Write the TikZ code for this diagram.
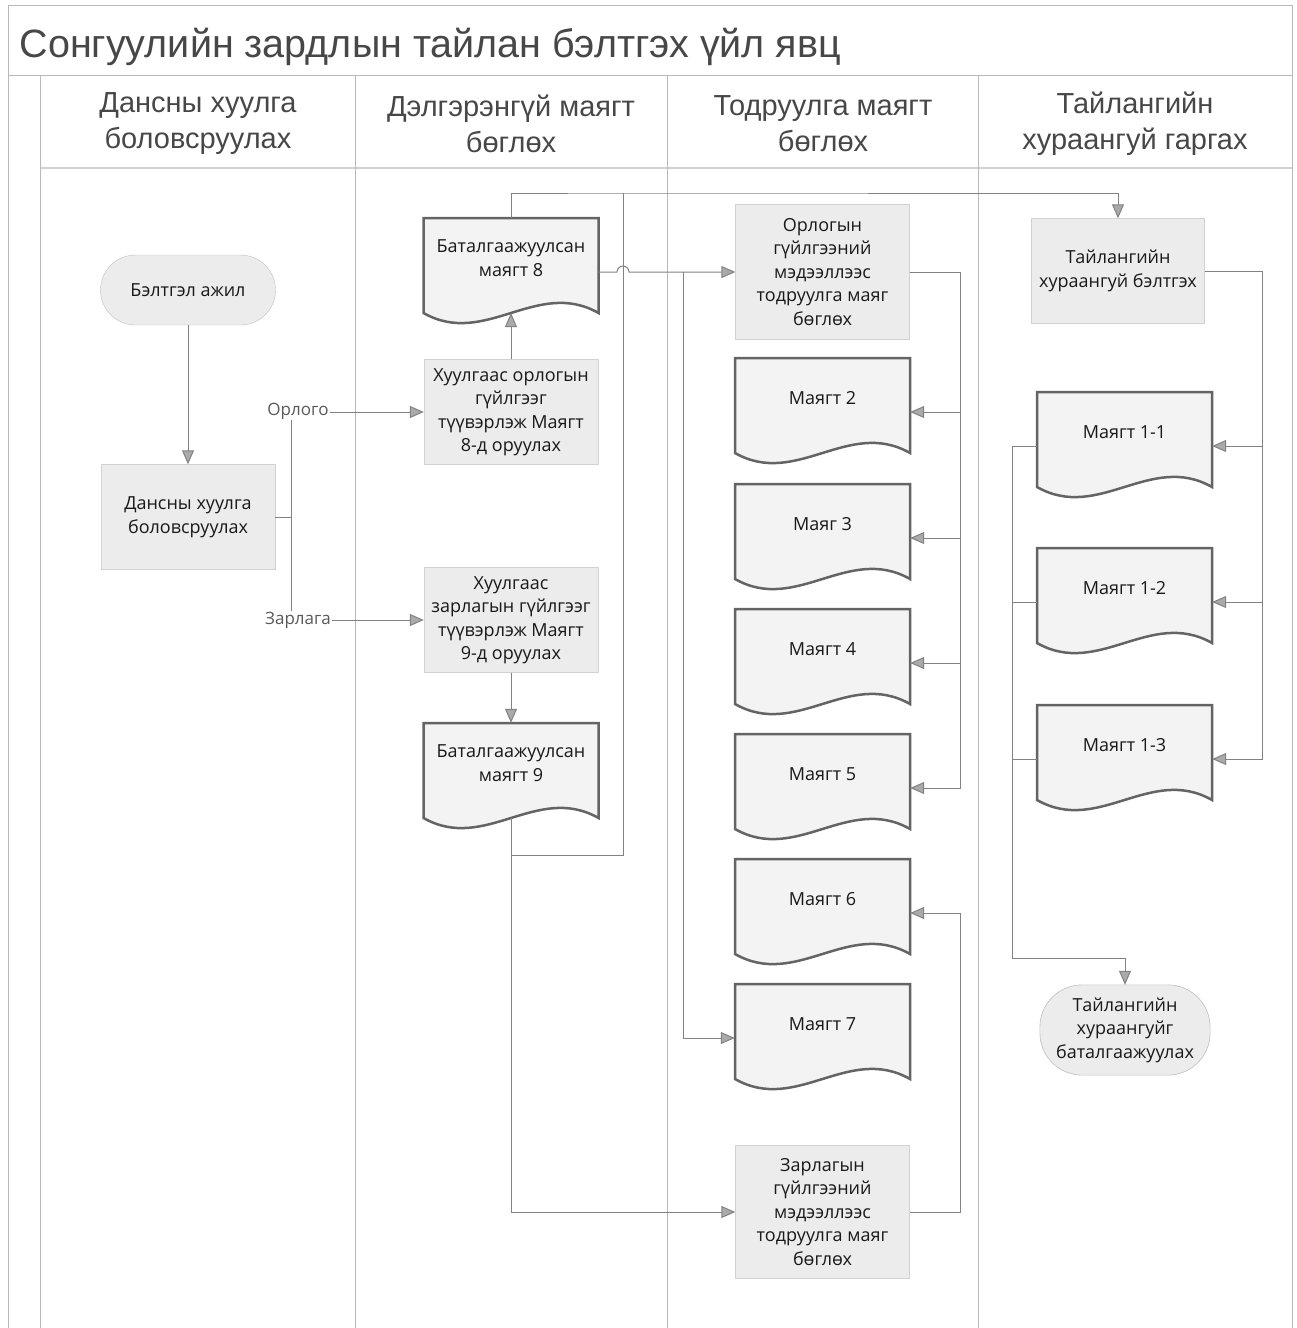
\documentclass[tikz,border=0pt]{standalone}
\usepackage{fontspec}
\setmainfont{Liberation Sans}
\newfontfamily\boxfont{Open Sans}
\usetikzlibrary{arrows.meta}
\definecolor{linegray}{RGB}{130,130,130}
\definecolor{tipgray}{RGB}{170,170,170}
\definecolor{boxfill}{RGB}{236,236,236}
\definecolor{docfill}{RGB}{243,243,243}
\definecolor{docedge}{RGB}{100,100,100}
\definecolor{ink}{RGB}{25,25,25}
\newcommand{\boxtext}{\boxfont\fontsize{18}{23.5}\selectfont}
% document shape: name, centre x, centre y, text
\newcommand{\docnode}[4]{%
  \filldraw[docline] (#2-87.5,#3-54) -- (#2+87.5,#3-54) -- (#2+87.5,#3+41)
    .. controls (#2+26,#3+6) and (#2-26,#3+76) .. (#2-87.5,#3+41) -- cycle;
  \node[docbox] (#1) at (#2,#3) {};
  \node[doctext] (#1t) at (#2,#3-14) {#4};
  \coordinate (#1b) at (#2,#3+41);}
\begin{document}
\begin{tikzpicture}[x=1pt,y=-1pt,
  frame/.style={draw=gray!55, line width=1},
  line/.style={draw=linegray, line width=1},
  flow/.style={line, -{Triangle[length=14pt,width=12pt,fill=tipgray]}},
  proc/.style={draw=gray!35, fill=boxfill, minimum width=174, minimum height=105,
    inner sep=2, align=center, text=ink, font=\boxtext},
  term/.style={proc, draw=gray!50, rounded corners=35, minimum width=175, minimum height=70},
  docbox/.style={minimum width=175, minimum height=108, inner sep=0},
  doctext/.style={align=center, text=ink, font=\boxtext},
  docline/.style={draw=docedge, fill=docfill, line width=2.5},
  lane/.style={align=center, text=ink!80, font=\fontsize{29}{36}\selectfont},
  lbl/.style={fill=white, inner sep=1, text=gray!70!black, font=\boxfont\fontsize{17}{20}\selectfont}]
\useasboundingbox (0,0) rectangle (1297,1328);
% frame and lanes
\draw[frame] (8,1328) -- (8,5) -- (1292,5) -- (1292,1328);
\draw[frame] (8,75) -- (1292,75);
\draw[frame, line width=2, draw=gray!35] (40,168) -- (1292,168);
\foreach \x in {40,355,667,978}
  \draw[frame] (\x,75) -- (\x,1328);
\node[anchor=base west, text=ink!80, font=\fontsize{39.5}{44}\selectfont] (title) at (16,57)
  {Сонгуулийн зардлын тайлан бэлтгэх үйл явц};
\node[lane] (hdA) at (198,124) {Дансны хуулга\\боловсруулах};
\node[lane] (hdB) at (511,124) {Дэлгэрэнгүй маягт\\бөглөх};
\node[lane] (hdC) at (823,124) {Тодруулга маягт\\бөглөх};
\node[lane] (hdD) at (1135,124) {Тайлангийн\\хураангуй гаргах};
% lane 1
\node[term] (start) at (188,290) {Бэлтгэл ажил};
\node[proc] (stmt) at (188,517) {Дансны хуулга\\боловсруулах};
% lane 2
\node[proc] (selInc) at (511,412) {Хуулгаас орлогын\\гүйлгээг\\түүвэрлэж Маягт\\8-д оруулах};
\node[proc] (selExp) at (511,620) {Хуулгаас\\зарлагын гүйлгээг\\түүвэрлэж Маягт\\9-д оруулах};
\docnode{f8}{511}{272}{Баталгаажуулсан\\маягт 8}
\docnode{f9}{511}{777}{Баталгаажуулсан\\маягт 9}
% lane 3
\node[proc, minimum height=135] (noteInc) at (822.5,272)
  {Орлогын\\гүйлгээний\\мэдээллээс\\тодруулга маяг\\бөглөх};
\node[proc, minimum height=133] (noteExp) at (822.5,1212)
  {Зарлагын\\гүйлгээний\\мэдээллээс\\тодруулга маяг\\бөглөх};
\foreach \n/\y/\t in {m2/412/Маягт 2, m3/538/Маяг 3, m4/663/Маягт 4,
    m5/788/Маягт 5, m6/913/Маягт 6, m7/1038/Маягт 7}
  \docnode{\n}{822.5}{\y}{\t}
% lane 4
\node[proc, minimum width=173] (sumPrep) at (1118,271) {Тайлангийн\\хураангуй бэлтгэх};
\foreach \n/\y/\t in {s11/446/Маягт 1-1, s12/602/Маягт 1-2, s13/759/Маягт 1-3}
  \docnode{\n}{1124.5}{\y}{\t}
\node[term, rounded corners=42, minimum width=170, minimum height=90] (finish) at (1125,1030)
  {Тайлангийн\\хураангуйг\\баталгаажуулах};
% bends
\coordinate (fork) at (291,517);
\coordinate (busT) at (623,193);
\coordinate (busB) at (623,855);
\coordinate (hop) at (617,272);
\coordinate (busM) at (683,272);
\coordinate (busR) at (960,272);
\coordinate (busR2) at (960,1212);
\coordinate (busS) at (1262,271);
\coordinate (busL) at (1012,958);
% connectors
\draw[flow] (start.south) -- (stmt.north);
\draw[line] (stmt.east) -- (fork);
\draw[flow] (fork) |- (selInc.west);
\draw[flow] (fork) |- (selExp.west);
\node[lbl] (lInc) at (298,411) {Орлого};
\node[lbl] (lExp) at (298,620) {Зарлага};
\draw[flow] (selInc.north) -- (f8b);
\draw[flow] (selExp.south) -- (f9.north);
\draw[flow] (f8.north) |- (busT) -| (sumPrep.north);
\draw[line] (f9b) |- (busB) -- (busT);
\draw[flow] (f9b) |- (noteExp.west);
\draw[flow] (f8.east) -- (hop) arc[start angle=180, end angle=0, radius=6pt] -- (noteInc.west);
\draw[flow] (busM) |- (m7.west);
\foreach \m in {m2,m3,m4,m5}
  \draw[flow] (noteInc.east) -- (busR) |- (\m.east);
\draw[flow] (noteExp.east) -- (busR2) |- (m6.east);
\foreach \s in {s11,s12,s13}
  \draw[flow] (sumPrep.east) -- (busS) |- (\s.east);
\draw[flow] (s11.west) -| (busL) -| (finish.north);
\foreach \s in {s12,s13}
  \draw[line] (\s.west) -| (busL);
\end{tikzpicture}
\end{document}
